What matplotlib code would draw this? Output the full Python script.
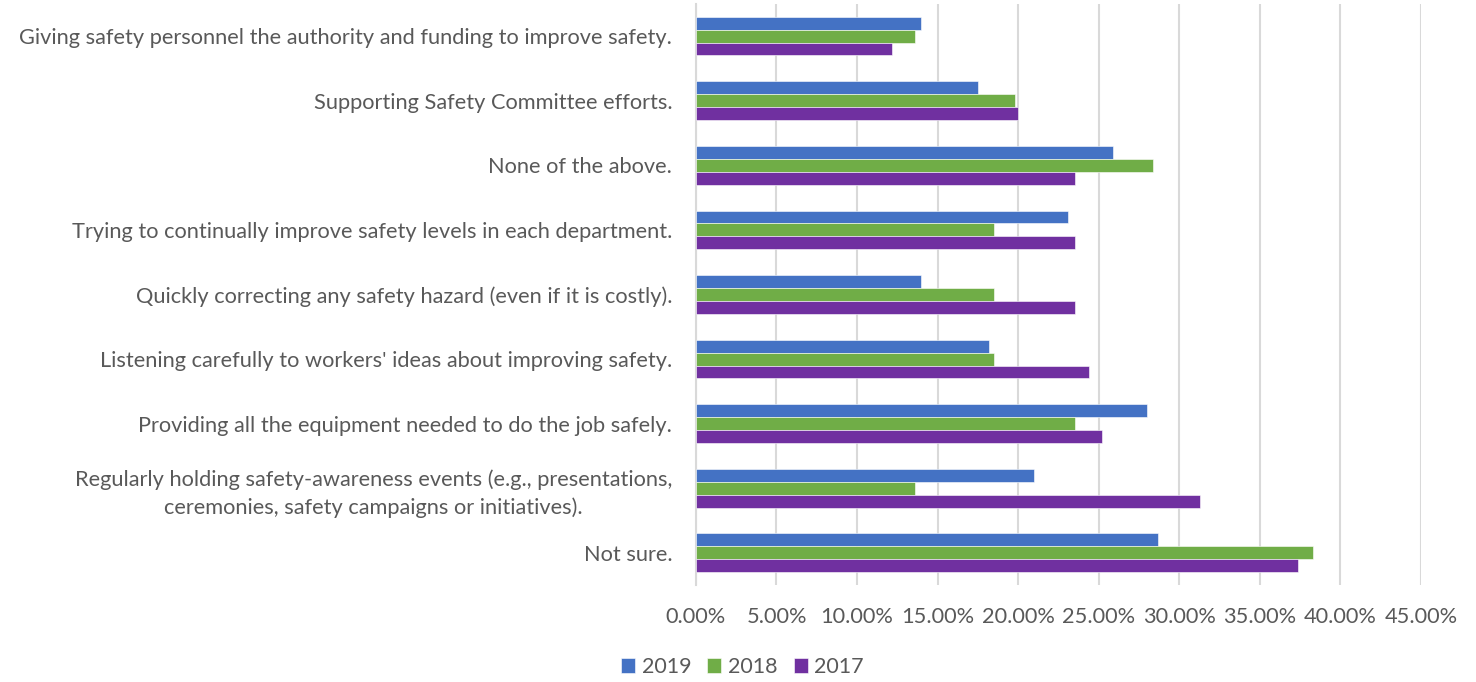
import matplotlib.pyplot as plt
from matplotlib.ticker import FuncFormatter
import numpy as np

categories = [
    "Giving safety personnel the authority and funding to improve safety.",
    "Supporting Safety Committee efforts.",
    "None of the above.",
    "Trying to continually improve safety levels in each department.",
    "Quickly correcting any safety hazard (even if it is costly).",
    "Listening carefully to workers' ideas about improving safety.",
    "Providing all the equipment needed to do the job safely.",
    "Regularly holding safety-awareness events (e.g., presentations,\nceremonies, safety campaigns or initiatives).",
    "Not sure.",
]

# percent of respondents per year
y2019 = [14.0, 17.5, 25.9, 23.1, 14.0, 18.2, 28.0, 21.0, 28.7]
y2018 = [13.6, 19.8, 28.4, 18.5, 18.5, 18.5, 23.5, 13.6, 38.3]
y2017 = [12.2, 20.0, 23.5, 23.5, 23.5, 24.4, 25.2, 31.3, 37.4]

years = ["2019", "2018", "2017"]
colors = ["#4472C4", "#70AD47", "#7030A0"]


def plot():
    plt.rcParams['font.family'] = ['Lato', 'DejaVu Sans']

    fig = plt.figure(figsize=(14.76, 6.82), dpi=100)
    ax = fig.add_axes([0.4715, 0.142, 0.4912, 0.8524])

    y = np.arange(len(categories))
    h = 0.2
    series = [y2019, y2018, y2017]
    for i, (vals, name, c) in enumerate(zip(series, years, colors)):
        ax.barh(y + (i - 1) * h, vals, height=h, color=c, label=name,
                edgecolor='white', linewidth=0.4, zorder=3)

    ax.set_ylim(len(categories) - 0.5, -0.5)
    ax.set_xlim(0, 45)
    ax.set_xticks(np.arange(0, 46, 5))
    ax.xaxis.set_major_formatter(FuncFormatter(lambda v, p: f"{v:.2f}%"))
    ax.set_yticks(y)
    ax.set_yticklabels(categories)
    for t in ax.get_yticklabels():
        t.set_multialignment('center')
        t.set_linespacing(1.45)

    ax.tick_params(axis='both', length=0, labelsize=15.7, colors='#595959')
    ax.tick_params(axis='y', pad=17)
    ax.tick_params(axis='x', pad=16)

    ax.grid(axis='x', color='#D9D9D9', linewidth=1.5, zorder=0)
    for s in ['top', 'right', 'bottom']:
        ax.spines[s].set_visible(False)
    ax.spines['left'].set_color('#D9D9D9')
    ax.spines['left'].set_linewidth(1.5)

    fig.legend(loc='center', bbox_to_anchor=(0.503, 0.022), ncol=3, frameon=False,
               fontsize=15.5, handlelength=0.65, handleheight=0.65,
               handletextpad=0.3, columnspacing=0.75, labelcolor='#595959')

    fig.savefig('out.png', dpi=100)


def main():
    plot()

if __name__ == "__main__":
    main()
